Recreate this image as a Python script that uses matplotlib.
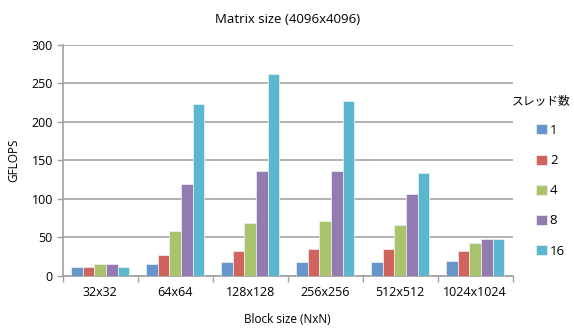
import matplotlib
matplotlib.use("Agg")
import matplotlib.pyplot as plt
import numpy as np

plt.rcParams['font.family'] = ['Open Sans', 'Noto Sans CJK JP', 'DejaVu Sans']

block_sizes = ["32x32", "64x64", "128x128", "256x256", "512x512", "1024x1024"]
thread_counts = ["1", "2", "4", "8", "16"]
gflops_1 = [12, 16, 18, 18, 18, 20]
gflops_2 = [12, 27, 33, 35, 35, 33]
gflops_4 = [16, 58, 69, 71, 66, 43]
gflops_8 = [16, 119, 136, 136, 106, 48]
gflops_16 = [12, 223, 262, 227, 134, 48]
series = [gflops_1, gflops_2, gflops_4, gflops_8, gflops_16]
colors = ['#6495CB', '#D0635E', '#A9C46C', '#937BB2', '#5BB7D0']

fig = plt.figure(figsize=(5.74, 3.29), dpi=100)
ax = fig.add_axes([0.109, 0.161, 0.784, 0.703])

x = np.arange(len(block_sizes))
w = 0.156
for i, (vals, c, lab) in enumerate(zip(series, colors, thread_counts)):
    ax.bar(x + (i - 2) * w, vals, width=w, color=c, edgecolor='#F2F2F2',
           linewidth=0.5, label=lab, zorder=3)

ax.set_xlim(-0.5, len(block_sizes) - 0.5)
ax.set_ylim(0, 300)
ax.set_yticks(np.arange(0, 301, 50))
ax.set_xticks(x)
ax.set_xticklabels(block_sizes, fontsize=9)
ax.set_xticks(np.arange(-0.5, len(block_sizes)), minor=True)
ax.tick_params(axis='x', which='major', length=0, pad=7)
ax.tick_params(axis='x', which='minor', length=4, color='#A0A0A0', width=1)
ax.tick_params(axis='y', length=4, color='#A0A0A0', width=1, labelsize=9, pad=3)

ax.grid(axis='y', color='#A6A6A6', linewidth=1.2, zorder=0)
for s in ['top', 'right']:
    ax.spines[s].set_visible(False)
ax.spines['left'].set_color('#A0A0A0')
ax.spines['bottom'].set_color('#A0A0A0')
ax.spines['left'].set_linewidth(1.2)
ax.spines['bottom'].set_linewidth(1.2)

ax.set_title("Matrix size (4096x4096)", fontsize=9.5, pad=16)
ax.set_xlabel("Block size (NxN)", fontsize=8.5, labelpad=10)
ax.set_ylabel("GFLOPS", fontsize=8.5, labelpad=8)

# legend title as its own text, entries indented beneath it
fig.text(512 / 574, 1 - 101 / 329, "スレッド数", fontsize=8.5, ha='left', va='center')
leg = fig.legend(loc='upper left', bbox_to_anchor=(536 / 574, 1 - 124 / 329),
                 frameon=False, fontsize=9.5,
                 handlelength=0.8, handleheight=0.8, handletextpad=0.25,
                 labelspacing=1.3, borderaxespad=0, borderpad=0)

fig.savefig("out.png", dpi=100)
